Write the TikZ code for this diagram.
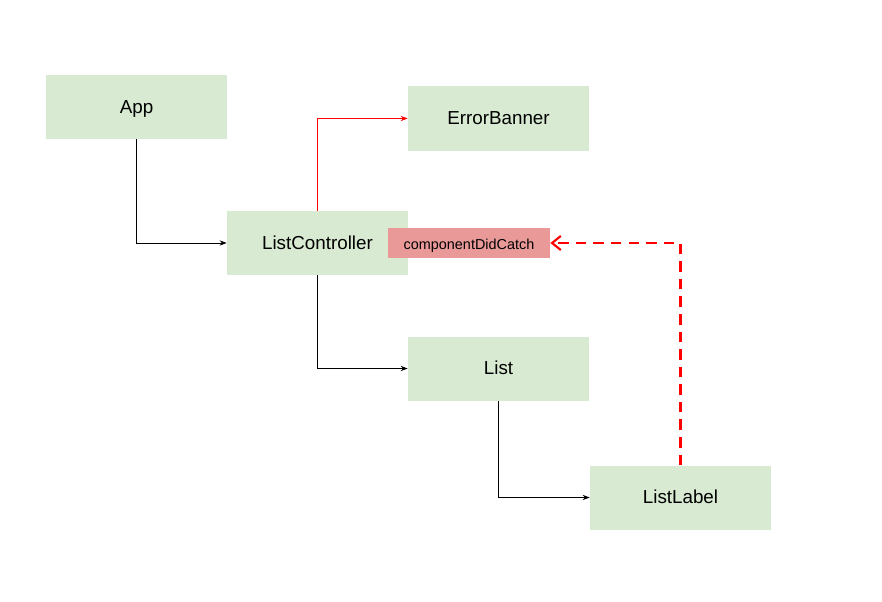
\documentclass[tikz,border=0pt]{standalone}
\usepackage{fontspec}
\setmainfont{Liberation Sans}
\usepackage{tikz}
\usetikzlibrary{arrows.meta,positioning,calc}
\definecolor{boxgreen}{HTML}{D9EAD3}
\definecolor{catchred}{HTML}{EA9999}
\definecolor{linered}{HTML}{FF0000}

\begin{document}
\begin{tikzpicture}[
  comp/.style={fill=boxgreen,minimum width=3.62cm,minimum height=1.28cm,inner sep=0pt,text height=0.8em,text depth=0.08em,font=\fontsize{10.7}{12}\selectfont},
  link/.style={-{Stealth[length=4pt,width=3pt]},line width=0.5pt},
  errlink/.style={link,linered}
]
\useasboundingbox (0,0) rectangle (17.64,-12.04);
\node[comp] (app) at (2.73,-2.14) {App};
\node[comp] (banner) at (9.97,-2.37) {ErrorBanner};
\node[comp] (ctrl) at (6.35,-4.86) {ListController};
\node[comp] (list) at (9.97,-7.37) {List};
\node[comp] (label) at (13.61,-9.95) {ListLabel};
\node[fill=catchred,minimum width=3.24cm,minimum height=0.6cm,inner sep=0pt,text height=0.8em,text depth=0.08em,font=\fontsize{8.2}{10}\selectfont] (catch) at (9.38,-4.86) {componentDidCatch};
\draw[link] (app.south) |- (ctrl.west);
\draw[errlink] (ctrl.north) |- (banner.west);
\draw[link] (ctrl.south) |- (list.west);
\draw[link] (list.south) |- (label.west);
\draw[linered,line width=1.2pt,dash pattern=on 6pt off 4pt,-{Straight Barb[length=5pt,width=8pt]}] (label.north) |- (catch.east);
\end{tikzpicture}
\end{document}
